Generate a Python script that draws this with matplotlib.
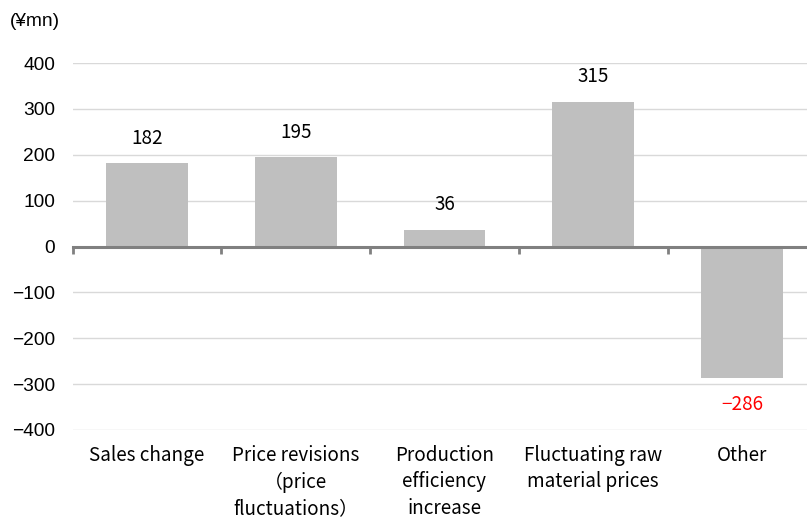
import matplotlib
matplotlib.use("Agg")
import matplotlib.pyplot as plt
import matplotlib.transforms as mtransforms
import numpy as np

categories = ["Sales change", "Price revisions\n（price\nfluctuations）", "Production\nefficiency\nincrease",
              "Fluctuating raw\nmaterial prices", "Other"]
values = [182, 195, 36, 315, -286]
yticks = [-400, -300, -200, -100, 0, 100, 200, 300, 400]
ytick_labels = ["−400", "−300", "−200", "−100", "0", "100", "200", "300", "400"]
unit_label = "(¥mn)"

plt.rcParams['font.family'] = ['Noto Sans CJK JP', 'DejaVu Sans']

fig = plt.figure(figsize=(8.07, 5.18), dpi=100)
ax = fig.add_axes([72.6/807, 1-430/518, 743.75/807, (430-63)/518])

x = np.arange(len(categories))
ax.bar(x, values, width=0.55, color="#BFBFBF", zorder=2)

ax.set_xlim(-0.5, len(categories)-0.5)
ax.set_ylim(-400, 400)
ax.set_yticks(yticks)
ax.set_yticklabels(ytick_labels, fontsize=13.8, family=['Liberation Sans', 'DejaVu Sans'])
ax.tick_params(axis='y', length=0, pad=12.5)
ax.yaxis.grid(True, color="#D9D9D9", linewidth=1.0, zorder=0)
ax.set_axisbelow(True)

for s in ['top', 'right', 'left']:
    ax.spines[s].set_visible(False)
ax.spines['bottom'].set_position(('data', 0))
ax.spines['bottom'].set_color('#808080')
ax.spines['bottom'].set_linewidth(2.2)
ax.spines['bottom'].set_zorder(3)
ax.set_xticks(np.arange(len(categories)+1) - 0.5)
ax.set_xticklabels([])
ax.tick_params(axis='x', direction='out', length=5, width=2, color='#808080')

trans = ax.get_xaxis_transform() + mtransforms.ScaledTranslation(0, -11/72, fig.dpi_scale_trans)
for i, c in enumerate(categories):
    ax.text(i, 0, c, transform=trans, ha='center', va='top', fontsize=13.6,
            linespacing=1.32, color='black')

for i, v in enumerate(values):
    if v >= 0:
        ax.annotate(f"{v}", (i, v), xytext=(0, 18), textcoords='offset points',
                    ha='center', va='center', fontsize=13.6, color='black')
    else:
        ax.annotate(f"−{abs(v)}", (i, v), xytext=(0, -19), textcoords='offset points',
                    ha='center', va='center', fontsize=13.6, color='#FF0000')

fig.text(10/807, 1-22/518, unit_label, ha='left', va='center', fontsize=13.8,
         family=['Liberation Sans', 'DejaVu Sans'])

fig.savefig("out.png", dpi=100)
